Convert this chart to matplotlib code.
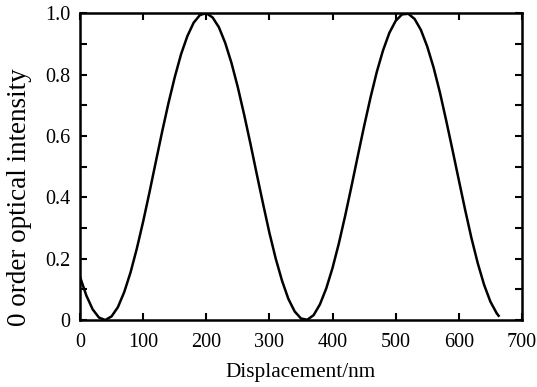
import matplotlib
matplotlib.use("Agg")
import matplotlib.pyplot as plt
from matplotlib.ticker import MultipleLocator, FixedLocator

# Zero-order optical intensity versus displacement
displacement_nm = [0, 10, 20, 30, 40, 50, 60, 70, 80, 90,
                   100, 110, 120, 130, 140, 150, 160, 170, 180, 190,
                   200, 210, 220, 230, 240, 250, 260, 270, 280, 290,
                   300, 310, 320, 330, 340, 350, 360, 370, 380, 390,
                   400, 410, 420, 430, 440, 450, 460, 470, 480, 490,
                   500, 510, 520, 530, 540, 550, 560, 570, 580, 590,
                   600, 610, 620, 630, 640, 650, 660, 663]
intensity = [0.141, 0.080, 0.035, 0.008, 0.000, 0.012, 0.042, 0.091, 0.155, 0.233,
             0.321, 0.416, 0.515, 0.613, 0.706, 0.791, 0.866, 0.925, 0.969, 0.994,
             1.000, 0.986, 0.954, 0.903, 0.837, 0.758, 0.669, 0.574, 0.475, 0.378,
             0.284, 0.200, 0.128, 0.069, 0.028, 0.005, 0.001, 0.016, 0.051, 0.103,
             0.170, 0.250, 0.340, 0.436, 0.535, 0.632, 0.724, 0.808, 0.879, 0.936,
             0.975, 0.996, 0.998, 0.981, 0.945, 0.891, 0.823, 0.742, 0.650, 0.554,
             0.456, 0.359, 0.267, 0.185, 0.115, 0.060, 0.022, 0.014]

x_ticks = [0, 100, 200, 300, 400, 500, 600, 700]
x_tick_labels = ["0", "100", "200", "300", "400", "500", "600", "700"]
y_ticks = [0, 0.2, 0.4, 0.6, 0.8, 1.0]
y_tick_labels = ["0", "0.2", "0.4", "0.6", "0.8", "1.0"]

plt.rcParams["font.family"] = ["Liberation Serif", "DejaVu Serif"]

fig = plt.figure(figsize=(5.37, 3.87), dpi=100)
ax = fig.add_axes([0.149, 0.173, 0.823, 0.793])

ax.plot(displacement_nm, intensity, color="black", linewidth=1.8)

ax.set_xlim(0, 700)
ax.set_ylim(0, 1.0)
ax.xaxis.set_major_locator(FixedLocator(x_ticks))
ax.set_xticklabels(x_tick_labels)
ax.yaxis.set_major_locator(FixedLocator(y_ticks))
ax.set_yticklabels(y_tick_labels)
ax.yaxis.set_minor_locator(MultipleLocator(0.1))

ax.tick_params(which="both", direction="in", top=True, right=True,
               width=1.5, length=5, labelsize=14.5)
ax.tick_params(axis="x", pad=9.5)
ax.tick_params(axis="y", pad=7)
for spine in ax.spines.values():
    spine.set_linewidth(1.8)

ax.set_xlabel("Displacement/nm", fontsize=15.3, labelpad=7.5)
ax.set_ylabel("0 order optical intensity", fontsize=19.5, labelpad=9.5)
ax.yaxis.label.set_y(0.40)

fig.savefig("out.png", dpi=100)
